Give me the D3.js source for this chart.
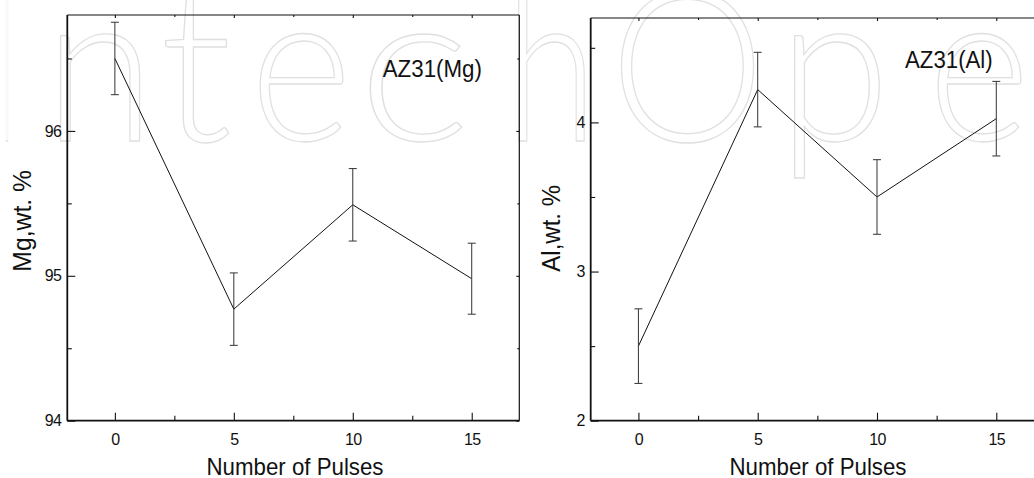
<!DOCTYPE html>
<html>
<head>
<meta charset="utf-8">
<script src="https://cdn.jsdelivr.net/npm/d3@7"></script>
<style>
  html, body { margin: 0; padding: 0; background: #fff; }
  svg { display: block; }
  text { font-family: "Liberation Sans", Arial, Helvetica, sans-serif; fill: #111; }
</style>
</head>
<body>
<script>
// ---- data ----
const pulses = [0, 5, 10, 15];
const mgValues = [96.5, 94.77, 95.49, 94.98];
const mgErrors = [0.25, 0.25, 0.25, 0.245];
const alValues = [2.5, 4.22, 3.5, 4.025];
const alErrors = [0.25, 0.25, 0.25, 0.25];
const xTicks = [0, 5, 10, 15];
const xMinorTicks = [2.5, 7.5, 12.5];
const mgTicks = [94, 95, 96];
const mgMinorTicks = [94.5, 95.5, 96.5];
const alTicks = [2, 3, 4];
const alMinorTicks = [2.5, 3.5, 4.5];
const xTitle = "Number of Pulses";
const mgTitle = "Mg,wt. %";
const alTitle = "Al,wt. %";
const mgLabel = "AZ31(Mg)";
const alLabel = "AZ31(Al)";
const watermarkLetters = ["I","n","t","e","c","h","O","p","e","n"];

const W = 1034, H = 478;
const svg = d3.select("body").append("svg").attr("width", W).attr("height", H);
svg.append("rect").attr("width", W).attr("height", H).attr("fill", "#fff");

// ---- watermark (faint outlined letters) ----
const wmBoxes = [[2,12],[44,155],[160,232],[250,352],[358,470],[505,597],[610,765],[778,890],[928,1030],[1040,1150]];
const wm = svg.append("g");
wm.selectAll("text").data(watermarkLetters).join("text")
  .attr("x", (d,i) => wmBoxes[i][0])
  .attr("y", 141)
  .attr("textLength", (d,i) => wmBoxes[i][1] - wmBoxes[i][0])
  .attr("lengthAdjust", "spacingAndGlyphs")
  .style("font-family", "Lato, 'Open Sans', sans-serif")
  .style("font-weight", 300)
  .style("font-size", "212px")
  .style("fill", "none")
  .style("stroke", "#e0e0e0")
  .style("stroke-width", 1.3)
  .text(d => d);

function panel(cfg) {
  const x = d3.scaleLinear().domain([-2, 17]).range([cfg.left, cfg.right]);
  const y = d3.scaleLinear().domain(cfg.yDomain).range([cfg.bottom, cfg.top]);
  const g = svg.append("g");
  const fmt = d3.format("d");

  // frame
  g.append("line").attr("x1", cfg.left).attr("x2", cfg.right).attr("y1", cfg.top).attr("y2", cfg.top)
    .attr("stroke", "#111").attr("stroke-width", 1.2);
  g.append("line").attr("x1", cfg.right).attr("x2", cfg.right).attr("y1", cfg.top).attr("y2", cfg.bottom)
    .attr("stroke", "#111").attr("stroke-width", 1.2);

  // bottom axis
  g.append("g").attr("class", "lab").attr("transform", `translate(0,${cfg.bottom})`)
    .call(d3.axisBottom(x).tickValues(xTicks).tickFormat(fmt).tickSize(-8).tickSizeOuter(0).tickPadding(12.9));
  g.append("g").attr("transform", `translate(0,${cfg.bottom})`)
    .call(d3.axisBottom(x).tickValues(xMinorTicks).tickSize(-5).tickSizeOuter(0).tickFormat(""));
  // top mirrored ticks
  g.append("g").attr("transform", `translate(0,${cfg.top})`)
    .call(d3.axisTop(x).tickValues(xTicks).tickSize(-3).tickSizeOuter(0).tickFormat(""));
  g.append("g").attr("transform", `translate(0,${cfg.top})`)
    .call(d3.axisTop(x).tickValues(xMinorTicks).tickSize(-2).tickSizeOuter(0).tickFormat(""));

  // left axis
  g.append("g").attr("class", "lab").attr("transform", `translate(${cfg.left},0)`)
    .call(d3.axisLeft(y).tickValues(cfg.yTicks).tickFormat(fmt).tickSize(-8).tickSizeOuter(0).tickPadding(6));
  g.append("g").attr("transform", `translate(${cfg.left},0)`)
    .call(d3.axisLeft(y).tickValues(cfg.yMinor).tickSize(-4.5).tickSizeOuter(0).tickFormat(""));
  // right mirrored ticks
  g.append("g").attr("transform", `translate(${cfg.right},0)`)
    .call(d3.axisRight(y).tickValues(cfg.yTicks).tickSize(-3).tickSizeOuter(0).tickFormat(""));
  g.append("g").attr("transform", `translate(${cfg.right},0)`)
    .call(d3.axisRight(y).tickValues(cfg.yMinor).tickSize(-2).tickSizeOuter(0).tickFormat(""));

  g.selectAll(".domain").remove();
  g.selectAll(".tick line").attr("stroke", "#111").attr("stroke-width", 1.1);
  g.selectAll(".lab").attr("font-size", 16).attr("font-family", "'Liberation Sans', Arial, sans-serif");
  g.selectAll(".lab .tick text")
    .attr("font-size", 16)
    .style("font-size", "16px")
    .style("letter-spacing", "-0.6px")
    .attr("fill", "#111");

  // thicker bottom and left axis lines
  g.append("line").attr("x1", cfg.left).attr("x2", cfg.right).attr("y1", cfg.bottom).attr("y2", cfg.bottom)
    .attr("stroke", "#111").attr("stroke-width", 1.8);
  g.append("line").attr("x1", cfg.left).attr("x2", cfg.left).attr("y1", cfg.top).attr("y2", cfg.bottom)
    .attr("stroke", "#111").attr("stroke-width", 1.8);

  // data
  const pts = pulses.map((p, i) => ({ p, v: cfg.values[i], e: cfg.errors[i] }));
  g.append("path").datum(pts)
    .attr("fill", "none").attr("stroke", "#111").attr("stroke-width", 1)
    .attr("d", d3.line().x(d => x(d.p)).y(d => y(d.v)));

  const eb = g.append("g").attr("stroke", "#333").attr("stroke-width", 1);
  eb.selectAll(".v").data(pts).join("line")
    .attr("x1", d => x(d.p)).attr("x2", d => x(d.p))
    .attr("y1", d => y(d.v - d.e)).attr("y2", d => y(d.v + d.e));
  eb.selectAll(".ct").data(pts).join("line")
    .attr("x1", d => x(d.p) - 4).attr("x2", d => x(d.p) + 4)
    .attr("y1", d => y(d.v + d.e)).attr("y2", d => y(d.v + d.e));
  eb.selectAll(".cb").data(pts).join("line")
    .attr("x1", d => x(d.p) - 4).attr("x2", d => x(d.p) + 4)
    .attr("y1", d => y(d.v - d.e)).attr("y2", d => y(d.v - d.e));

  // panel label
  g.append("text").attr("x", cfg.labelX).attr("y", cfg.labelY)
    .attr("textLength", cfg.labelLen).attr("lengthAdjust", "spacingAndGlyphs")
    .style("font-size", "23px").text(cfg.label);

  // x title
  g.append("text").attr("x", cfg.xTitleX).attr("y", 474.5).attr("text-anchor", "middle")
    .attr("textLength", 177).attr("lengthAdjust", "spacingAndGlyphs")
    .style("font-size", "24px").text(xTitle);

  // y title
  g.append("text").attr("transform", `translate(${cfg.yTitleX},271.7) rotate(-90)`)
    .attr("text-anchor", "start")
    .attr("textLength", cfg.yTitleLen).attr("lengthAdjust", "spacingAndGlyphs")
    .style("font-size", "25px").text(cfg.yTitle);
}

panel({
  left: 67.3, right: 519.3, top: 15, bottom: 420.7,
  yDomain: [94, 96.8], yTicks: mgTicks, yMinor: mgMinorTicks,
  values: mgValues, errors: mgErrors,
  label: mgLabel, labelX: 382.7, labelY: 76.7, labelLen: 99.3,
  xTitleX: 295, yTitle: mgTitle, yTitleX: 31, yTitleLen: 101.7
});

panel({
  left: 590.7, right: 1044, top: 18, bottom: 420.7,
  yDomain: [2, 4.7], yTicks: alTicks, yMinor: alMinorTicks,
  values: alValues, errors: alErrors,
  label: alLabel, labelX: 905, labelY: 68.3, labelLen: 87.7,
  xTitleX: 818, yTitle: alTitle, yTitleX: 560, yTitleLen: 86.7
});
</script>
</body>
</html>
